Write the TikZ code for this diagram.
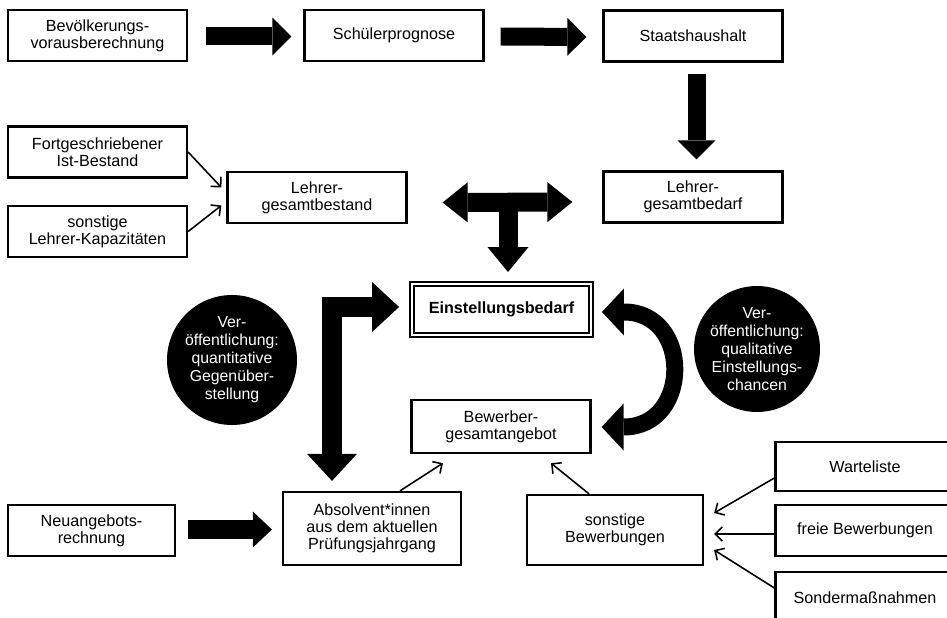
\documentclass[tikz,border=0pt]{standalone}
\usepackage{fontspec}
\setmainfont{Liberation Sans}
\usetikzlibrary{arrows.meta}

\tikzset{
  box/.style={draw, line width=1.3pt, minimum width=3.58cm, minimum height=1.02cm,
    align=center, inner sep=2pt, font=\fontsize{9.2}{9.5}\selectfont},
  bigbox/.style={box, double, double distance=1.2pt, line width=1.1pt,
    font=\fontsize{9.2}{10}\selectfont\bfseries},
  blob/.style={circle, fill=black, text=white, minimum size=2.6cm, inner sep=0pt,
    align=center, font=\fontsize{9}{10.3}\selectfont},
  feed/.style={line width=0.9pt, -{Straight Barb[length=4pt,width=8pt]}},
  fat/.style n args={3}{line width=#1, -{Triangle[width=#2,length=#3,line width=0pt]}},
  fatboth/.style n args={3}{line width=#1,
    {Triangle[width=#2,length=#3,line width=0pt]}-{Triangle[width=#2,length=#3,line width=0pt]}},
}

\begin{document}
\begin{tikzpicture}[x=0.02cm, y=-0.02cm, line join=miter]
\clip (0,0) rectangle (947,618);

% --- top row ---
\node[box] (bev) at (97.5,35.5) {Bevölkerungs-\\vorausberechnung};
\node[box] (sch) at (394,35.5) {Schülerprognose};
\node[box] (staat) at (693,36) {Staatshaushalt};

\draw[fat={0.36cm}{0.76cm}{0.38cm}] ([shift={(18,1)}]bev.east) -- ([shift={(-12,1)}]sch.west);
\draw[fat={0.36cm}{0.76cm}{0.38cm}] ([shift={(16,1)}]sch.east) -- ([shift={(-16,1)}]staat.west);

% --- teachers ---
\node[box] (fort) at (97.5,152) {Fortgeschriebener\\Ist-Bestand};
\node[box] (sonstL) at (97.5,231.5) {sonstige\\Lehrer-Kapazitäten};
\node[box] (bestand) at (317,197.5) {Lehrer-\\gesamtbestand};
\node[box] (bedarf) at (693,197) {Lehrer-\\gesamtbedarf};

\draw[fat={0.36cm}{0.76cm}{0.38cm}] ([shift={(3.5,11)}]staat.south) -- ([shift={(3.5,-11)}]bedarf.north);
\draw[feed] (fort.east) -- ([shift={(-5,-10)}]bestand.west);
\draw[feed] (sonstL.east) -- ([shift={(-5,8)}]bestand.west);

\coordinate (tee) at (508,202.5);
\draw[fatboth={0.38cm}{0.80cm}{0.50cm}] ([shift={(35,5)}]bestand.east) -- ([shift={(-30,5)}]bedarf.west);

% --- middle ---
\node[bigbox] (einst) at (501.5,309.5) {Einstellungsbedarf};
\node[box, minimum height=1.06cm] (bewerber) at (501,426.5) {Bewerber-\\gesamtangebot};

\draw[fat={0.38cm}{0.82cm}{0.50cm}, shorten >=0.22cm] (tee) -- (tee |- einst.north);

\node[blob] (quanti) at (232,360) {Ver-\\öffentlichung:\\quantitative\\Gegenüber-\\stellung};
\node[blob, minimum size=2.52cm] (quali) at (757,349) {Ver-\\öffentlichung:\\qualitative\\Einstellungs-\\chancen};

% --- bottom row ---
\node[box, minimum width=3.34cm] (neu) at (91.5,530.5) {Neuangebots-\\rechnung};
\node[box, minimum width=3.56cm, minimum height=1.46cm] (absol) at (372,528.5) {Absolvent*innen\\aus dem aktuellen\\Prüfungsjahrgang};
\node[box, minimum width=3.52cm, minimum height=1.40cm] (sonstB) at (615,530) {sonstige\\Bewerbungen};
\node[box, minimum height=0.98cm] (warte) at (865,466.5) {Warteliste};
\node[box] (freie) at (865,530.5) {freie Bewerbungen};
\node[box] (sonder) at (865,597.5) {Sondermaßnahmen};

\draw[fatboth={0.40cm}{1.0cm}{0.54cm}] ([shift={(-12,-2.5)}]einst.west) -| ([shift={(-40,-10)}]absol.north);
\draw[fatboth={0.34cm}{0.94cm}{0.44cm}] ([shift={(10,2.5)}]einst.east) to[out=0, in=0, looseness=2.0] ([shift={(10,0.5)}]bewerber.east);
\draw[fat={0.38cm}{0.72cm}{0.38cm}] ([shift={(12,-1)}]neu.east) -- ([shift={(-10,1)}]absol.west);

\draw[feed] ([shift={(28,0)}]absol.north) -- ([shift={(-58,9)}]bewerber.south);
\draw[feed] ([shift={(-26,0)}]sonstB.north) -- ([shift={(50,9)}]bewerber.south);
\draw[feed] ([shift={(0,11.5)}]warte.west) -- ([shift={(10,-17)}]sonstB.east);
\draw[feed] ([shift={(0,3.5)}]freie.west) -- ([shift={(10,4)}]sonstB.east);
\draw[feed] ([shift={(0,-9.5)}]sonder.west) -- ([shift={(10,20)}]sonstB.east);

\end{tikzpicture}
\end{document}
